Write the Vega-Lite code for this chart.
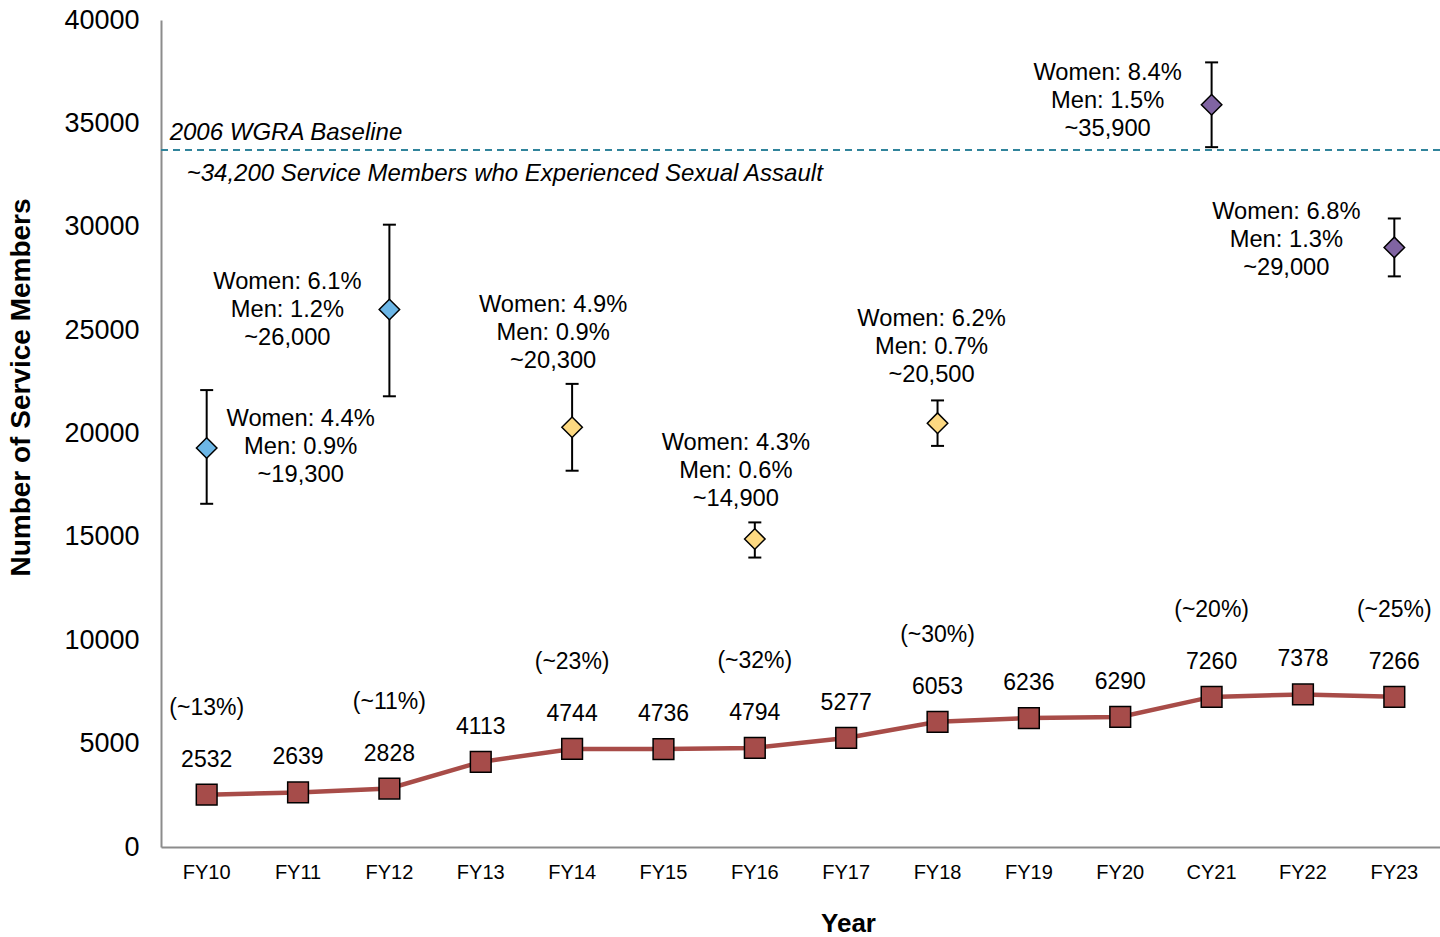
{
  "$schema": "https://vega.github.io/schema/vega-lite/v6.json",
  "width": 1279,
  "height": 827,
  "autosize": {"type": "none"},
  "padding": {"left": 161, "top": 20, "right": 0, "bottom": 90},
  "background": "white",
  "config": {
    "view": {"stroke": null},
    "font": "Liberation Sans",
    "text": {"font": "Liberation Sans", "color": "black"},
    "axis": {"labelFont": "Liberation Sans", "titleFont": "Liberation Sans", "labelColor": "black", "titleColor": "black"}
  },
  "datasets": {
    "survey": [
      {"year": "FY10", "estimate": 19300, "lower": 16600, "upper": 22100, "period": "2010-2012", "label": "Women: 4.4%\nMen: 0.9%\n~19,300"},
      {"year": "FY12", "estimate": 26000, "lower": 21800, "upper": 30100, "period": "2010-2012", "label": "Women: 6.1%\nMen: 1.2%\n~26,000"},
      {"year": "FY14", "estimate": 20300, "lower": 18200, "upper": 22400, "period": "2014-2018", "label": "Women: 4.9%\nMen: 0.9%\n~20,300"},
      {"year": "FY16", "estimate": 14900, "lower": 14000, "upper": 15700, "period": "2014-2018", "label": "Women: 4.3%\nMen: 0.6%\n~14,900"},
      {"year": "FY18", "estimate": 20500, "lower": 19400, "upper": 21600, "period": "2014-2018", "label": "Women: 6.2%\nMen: 0.7%\n~20,500"},
      {"year": "CY21", "estimate": 35900, "lower": 33850, "upper": 37950, "period": "2021-2023", "label": "Women: 8.4%\nMen: 1.5%\n~35,900"},
      {"year": "FY23", "estimate": 29000, "lower": 27600, "upper": 30400, "period": "2021-2023", "label": "Women: 6.8%\nMen: 1.3%\n~29,000"}
    ],
    "reports": [
      {"year": "FY10", "count": 2532, "pct": "(~13%)"},
      {"year": "FY11", "count": 2639, "pct": null},
      {"year": "FY12", "count": 2828, "pct": "(~11%)"},
      {"year": "FY13", "count": 4113, "pct": null},
      {"year": "FY14", "count": 4744, "pct": "(~23%)"},
      {"year": "FY15", "count": 4736, "pct": null},
      {"year": "FY16", "count": 4794, "pct": "(~32%)"},
      {"year": "FY17", "count": 5277, "pct": null},
      {"year": "FY18", "count": 6053, "pct": "(~30%)"},
      {"year": "FY19", "count": 6236, "pct": null},
      {"year": "FY20", "count": 6290, "pct": null},
      {"year": "CY21", "count": 7260, "pct": "(~20%)"},
      {"year": "FY22", "count": 7378, "pct": null},
      {"year": "FY23", "count": 7266, "pct": "(~25%)"}
    ]
  },
  "encoding": {
    "x": {
      "field": "year", "type": "nominal",
      "scale": {"domain": ["FY10","FY11","FY12","FY13","FY14","FY15","FY16","FY17","FY18","FY19","FY20","CY21","FY22","FY23"], "paddingInner": 0, "paddingOuter": 0},
      "axis": {"title": "Year", "labelAngle": 0, "labelFontSize": 20, "labelPadding": 15, "ticks": false, "domainColor": "#8c8c8c", "domainWidth": 2, "titleFontSize": 26, "titleFontWeight": "bold", "titlePadding": 28, "titleX": 687, "grid": false}
    }
  },
  "layer": [
    {
      "data": {"name": "reports"},
      "mark": {"type": "rule", "stroke": "#31849b", "strokeWidth": 1.5, "strokeDash": [7, 5]},
      "encoding": {
        "x": null,
        "y": {"datum": 33700, "type": "quantitative",
          "scale": {"domain": [0, 40000], "nice": false},
          "axis": {"title": "Number of Service Members", "values": [0,5000,10000,15000,20000,25000,30000,35000,40000], "format": "d", "labelFontSize": 27, "labelPadding": 22, "ticks": false, "domainColor": "#8c8c8c", "domainWidth": 2, "gridColor": "#d9d9d9", "gridWidth": 2, "titleFontSize": 28, "titleFontWeight": "bold", "titlePadding": 28, "titleY": 367}}
      }
    },
    {
      "data": {"values": [{"note": "2006 WGRA Baseline"}]},
      "mark": {"type": "text", "align": "left", "baseline": "middle", "fontStyle": "italic", "fontSize": 24, "dx": -37, "dy": -17},
      "encoding": {"x": {"datum": "FY10"}, "y": {"datum": 33700, "type": "quantitative"}, "text": {"field": "note"}}
    },
    {
      "data": {"values": [{"note": "~34,200 Service Members who Experienced Sexual Assault"}]},
      "mark": {"type": "text", "align": "left", "baseline": "middle", "fontStyle": "italic", "fontSize": 24, "dx": -20, "dy": 24},
      "encoding": {"x": {"datum": "FY10"}, "y": {"datum": 33700, "type": "quantitative"}, "text": {"field": "note"}}
    },
    {
      "data": {"name": "survey"},
      "mark": {"type": "rule", "stroke": "black", "strokeWidth": 2},
      "encoding": {"y": {"field": "lower", "type": "quantitative"}, "y2": {"field": "upper"}}
    },
    {
      "data": {"name": "survey"},
      "mark": {"type": "tick", "color": "black", "size": 13, "thickness": 2, "opacity": 1},
      "encoding": {"y": {"field": "lower", "type": "quantitative"}}
    },
    {
      "data": {"name": "survey"},
      "mark": {"type": "tick", "color": "black", "size": 13, "thickness": 2, "opacity": 1},
      "encoding": {"y": {"field": "upper", "type": "quantitative"}}
    },
    {
      "data": {"name": "survey"},
      "mark": {"type": "point", "shape": "diamond", "filled": true, "size": 420, "stroke": "black", "strokeWidth": 1.5, "opacity": 1},
      "encoding": {
        "y": {"field": "estimate", "type": "quantitative"},
        "fill": {"field": "period", "type": "nominal", "scale": {"domain": ["2010-2012","2014-2018","2021-2023"], "range": ["#6cb6e6","#fdd981","#8064a2"]}, "legend": null}
      }
    },
    {
      "data": {"name": "survey"},
      "transform": [{"filter": "datum.year === 'FY10'"}],
      "mark": {"type": "text", "lineBreak": "\n", "lineHeight": 28, "fontSize": 23.7, "align": "center", "baseline": "middle", "dx": 94, "dy": -29},
      "encoding": {"y": {"field": "estimate", "type": "quantitative"}, "text": {"field": "label"}}
    },
    {
      "data": {"name": "survey"},
      "transform": [{"filter": "datum.year === 'FY12'"}],
      "mark": {"type": "text", "lineBreak": "\n", "lineHeight": 28, "fontSize": 23.7, "align": "center", "baseline": "middle", "dx": -102, "dy": -27},
      "encoding": {"y": {"field": "estimate", "type": "quantitative"}, "text": {"field": "label"}}
    },
    {
      "data": {"name": "survey"},
      "transform": [{"filter": "datum.year === 'FY14'"}],
      "mark": {"type": "text", "lineBreak": "\n", "lineHeight": 28, "fontSize": 23.7, "align": "center", "baseline": "middle", "dx": -19, "dy": -122},
      "encoding": {"y": {"field": "estimate", "type": "quantitative"}, "text": {"field": "label"}}
    },
    {
      "data": {"name": "survey"},
      "transform": [{"filter": "datum.year === 'FY16'"}],
      "mark": {"type": "text", "lineBreak": "\n", "lineHeight": 28, "fontSize": 23.7, "align": "center", "baseline": "middle", "dx": -19, "dy": -96},
      "encoding": {"y": {"field": "estimate", "type": "quantitative"}, "text": {"field": "label"}}
    },
    {
      "data": {"name": "survey"},
      "transform": [{"filter": "datum.year === 'FY18'"}],
      "mark": {"type": "text", "lineBreak": "\n", "lineHeight": 28, "fontSize": 23.7, "align": "center", "baseline": "middle", "dx": -6, "dy": -104},
      "encoding": {"y": {"field": "estimate", "type": "quantitative"}, "text": {"field": "label"}}
    },
    {
      "data": {"name": "survey"},
      "transform": [{"filter": "datum.year === 'CY21'"}],
      "mark": {"type": "text", "lineBreak": "\n", "lineHeight": 28, "fontSize": 23.7, "align": "center", "baseline": "middle", "dx": -104, "dy": -32},
      "encoding": {"y": {"field": "estimate", "type": "quantitative"}, "text": {"field": "label"}}
    },
    {
      "data": {"name": "survey"},
      "transform": [{"filter": "datum.year === 'FY23'"}],
      "mark": {"type": "text", "lineBreak": "\n", "lineHeight": 28, "fontSize": 23.7, "align": "center", "baseline": "middle", "dx": -108, "dy": -35},
      "encoding": {"y": {"field": "estimate", "type": "quantitative"}, "text": {"field": "label"}}
    },
    {
      "data": {"name": "reports"},
      "mark": {"type": "line", "stroke": "#a84c48", "strokeWidth": 4.5},
      "encoding": {"y": {"field": "count", "type": "quantitative"}}
    },
    {
      "data": {"name": "reports"},
      "mark": {"type": "point", "shape": "square", "filled": true, "size": 430, "fill": "#a64c4a", "stroke": "black", "strokeWidth": 1.5, "opacity": 1},
      "encoding": {"y": {"field": "count", "type": "quantitative"}}
    },
    {
      "data": {"name": "reports"},
      "mark": {"type": "text", "fontSize": 23, "align": "center", "baseline": "middle", "dy": -35},
      "encoding": {"y": {"field": "count", "type": "quantitative"}, "text": {"field": "count", "type": "quantitative", "format": "d"}}
    },
    {
      "data": {"name": "reports"},
      "transform": [{"filter": "datum.pct !== null"}],
      "mark": {"type": "text", "fontSize": 23, "align": "center", "baseline": "middle", "dy": -87},
      "encoding": {"y": {"field": "count", "type": "quantitative"}, "text": {"field": "pct"}}
    }
  ]
}
